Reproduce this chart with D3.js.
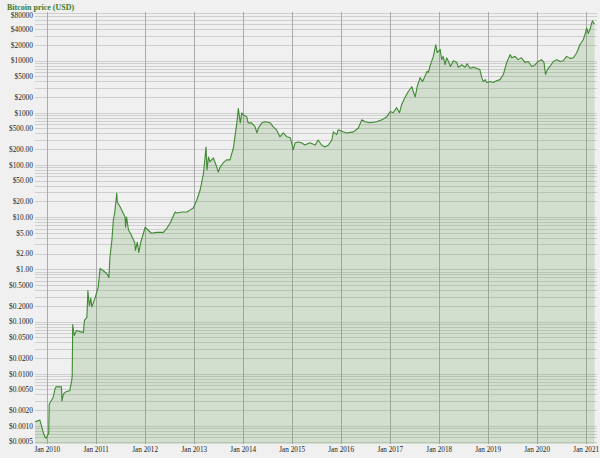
<!DOCTYPE html>
<html>
<head>
<meta charset="utf-8">
<script src="https://cdn.jsdelivr.net/npm/d3@7"></script>
<style>
  html, body { margin: 0; padding: 0; background: #f0f0f0; }
  svg { display: block; }
  svg text { font-family: "Liberation Serif", "Times New Roman", Times, serif; }
</style>
</head>
<body>
<svg id="chart" width="600" height="458"></svg>
<script>
// Decimal years
const years = [2009.76, 2009.86, 2009.92, 2009.96, 2009.99, 2010.02, 2010.04, 2010.05, 2010.07, 2010.13,
  2010.17, 2010.19, 2010.30, 2010.31, 2010.34, 2010.39, 2010.47, 2010.49, 2010.51, 2010.52,
  2010.53, 2010.56, 2010.61, 2010.68, 2010.75, 2010.77, 2010.82, 2010.84, 2010.87, 2010.90,
  2010.92, 2010.99, 2011.05, 2011.09, 2011.14, 2011.22, 2011.27, 2011.29, 2011.33, 2011.36,
  2011.39, 2011.43, 2011.44, 2011.50, 2011.56, 2011.60, 2011.61, 2011.63, 2011.67, 2011.71,
  2011.80, 2011.81, 2011.85, 2011.88, 2011.92, 2012.01, 2012.07, 2012.14, 2012.24, 2012.38,
  2012.45, 2012.52, 2012.62, 2012.65, 2012.76, 2012.86, 2012.92, 2012.99, 2013.06, 2013.13,
  2013.20, 2013.25, 2013.27, 2013.30, 2013.33, 2013.40, 2013.47, 2013.50, 2013.54, 2013.60,
  2013.67, 2013.74, 2013.78, 2013.81, 2013.84, 2013.88, 2013.91, 2013.95, 2013.98, 2014.01,
  2014.08, 2014.11, 2014.18, 2014.25, 2014.29, 2014.32, 2014.39, 2014.46, 2014.56, 2014.62,
  2014.69, 2014.76, 2014.83, 2014.90, 2014.97, 2015.00, 2015.03, 2015.07, 2015.13, 2015.20,
  2015.27, 2015.37, 2015.48, 2015.54, 2015.61, 2015.68, 2015.75, 2015.82, 2015.85, 2015.92,
  2015.95, 2016.05, 2016.12, 2016.26, 2016.36, 2016.43, 2016.50, 2016.60, 2016.73, 2016.84,
  2016.94, 2017.01, 2017.07, 2017.14, 2017.20, 2017.24, 2017.31, 2017.38, 2017.45, 2017.48,
  2017.52, 2017.56, 2017.62, 2017.67, 2017.72, 2017.76, 2017.79, 2017.82, 2017.89, 2017.94,
  2017.97, 2018.03, 2018.06, 2018.09, 2018.13, 2018.16, 2018.20, 2018.24, 2018.30, 2018.37,
  2018.40, 2018.47, 2018.54, 2018.58, 2018.64, 2018.71, 2018.84, 2018.88, 2018.91, 2018.95,
  2018.98, 2019.05, 2019.11, 2019.18, 2019.25, 2019.32, 2019.39, 2019.46, 2019.49, 2019.56,
  2019.62, 2019.69, 2019.76, 2019.83, 2019.90, 2019.97, 2020.03, 2020.10, 2020.15, 2020.18,
  2020.22, 2020.27, 2020.34, 2020.41, 2020.48, 2020.54, 2020.61, 2020.68, 2020.75, 2020.82,
  2020.88, 2020.95, 2020.99, 2021.02, 2021.05, 2021.09, 2021.12, 2021.14, 2021.16, 2021.18];

// Price in USD
const prices = [0.0012, 0.00129, 0.0008, 0.00062, 0.00058, 0.00068, 0.0007, 0.0026, 0.0028, 0.0035,
  0.0052, 0.0056, 0.0056, 0.003, 0.0041, 0.0045, 0.0047, 0.006, 0.0074, 0.009,
  0.087, 0.054, 0.067, 0.064, 0.062, 0.105, 0.12, 0.39, 0.2, 0.28,
  0.19, 0.29, 0.45, 1.04, 0.96, 0.84, 0.7, 1.7, 3.6, 8.8,
  12.5, 29, 19.5, 15.6, 12, 10, 6.4, 10, 5.6, 4.9,
  3.2, 2.3, 3.3, 2.1, 3.3, 6.4, 5.6, 4.9, 5.1, 5.1,
  6.1, 7.7, 12.5, 12, 12.5, 12.5, 13.6, 14.9, 21, 33,
  70, 220, 80, 142, 114, 136, 91, 73, 91, 109,
  125, 125, 170, 211, 345, 640, 1200, 640, 1000, 910,
  840, 640, 640, 540, 410, 510, 640, 670, 640, 540,
  470, 345, 410, 345, 330, 265, 195, 265, 275, 265,
  240, 265, 240, 300, 240, 220, 240, 300, 430, 380,
  470, 430, 410, 430, 510, 730, 670, 640, 670, 730,
  840, 1050, 1000, 1250, 1000, 1400, 1950, 2550, 3150, 2550,
  2000, 3150, 4700, 3950, 5000, 6200, 5900, 7700, 12000, 20000,
  14200, 16300, 10400, 12000, 8300, 11300, 9600, 7700, 9900, 9200,
  7400, 8300, 7400, 8700, 7100, 7400, 6700, 4700, 3950, 4300,
  3800, 3950, 3800, 4100, 4300, 5400, 9200, 13000, 11300, 12000,
  10400, 11300, 9200, 9600, 7700, 8300, 9600, 10400, 9200, 5400,
  6700, 7700, 9600, 10400, 9600, 9900, 12000, 11000, 11300, 14200,
  20000, 25000, 33000, 42000, 33000, 40000, 52000, 58000, 51000, 52000];

const yTickValues = [80000, 40000, 20000, 10000, 5000, 2000, 1000, 500, 200, 100, 50, 20, 10, 5, 2, 1,
  0.5, 0.2, 0.1, 0.05, 0.02, 0.01, 0.005, 0.002, 0.001, 0.0005];
const xTickYears = [2010, 2011, 2012, 2013, 2014, 2015, 2016, 2017, 2018, 2019, 2020, 2021];
const titleText = "Bitcoin price (USD)";

function yearToDate(yv) {
  const yr = Math.floor(yv);
  const start = Date.UTC(yr, 0, 1), end = Date.UTC(yr + 1, 0, 1);
  return new Date(start + (yv - yr) * (end - start));
}

const data = years.map((yv, i) => ({ date: yearToDate(yv), price: prices[i] }));

const svg = d3.select("#chart");
const M = { left: 35, right: 597, top: 12, bottom: 444 };

const x = d3.scaleUtc()
  .domain([yearToDate(2009.76), yearToDate(2021.23)])
  .range([M.left, M.right]);
const y = d3.scaleLog()
  .domain([0.00045, 85000])
  .range([M.bottom, M.top]);

// Minor horizontal grid (1..9 x 10^k)
const minor = [];
for (let e = -4; e <= 4; e++) for (let m = 1; m <= 9; m++) {
  const v = m * Math.pow(10, e);
  if (v >= y.domain()[0] && v <= y.domain()[1]) minor.push(v);
}
svg.append("g").selectAll("line").data(minor).join("line")
  .attr("x1", M.left).attr("x2", M.right)
  .attr("y1", d => Math.round(y(d)) + 0.5).attr("y2", d => Math.round(y(d)) + 0.5)
  .attr("stroke", "#cfcfcf").attr("stroke-width", 1);

// Vertical year grid
svg.append("g").selectAll("line").data(xTickYears).join("line")
  .attr("x1", d => Math.round(x(yearToDate(d))) + 0.5).attr("x2", d => Math.round(x(yearToDate(d))) + 0.5)
  .attr("y1", M.top).attr("y2", M.bottom)
  .attr("stroke", "#ababab").attr("stroke-width", 1);

// Area + line
const area = d3.area().x(d => x(d.date)).y0(M.bottom).y1(d => y(d.price));
const line = d3.line().x(d => x(d.date)).y(d => y(d.price));
svg.append("path").datum(data).attr("d", area)
  .attr("fill", "rgb(90,150,70)").attr("fill-opacity", 0.2);
svg.append("path").datum(data).attr("d", line)
  .attr("fill", "none").attr("stroke", "#3f8a33").attr("stroke-width", 1.1)
  .attr("stroke-linejoin", "round");

// Y axis labels
function fmt(v) {
  if (v >= 1000) return "$" + v.toFixed(0);
  if (v >= 1) return "$" + v.toFixed(2);
  return "$" + v.toFixed(4);
}
const yAxis = d3.axisLeft(y).tickValues(yTickValues).tickFormat(fmt).tickSize(0).tickPadding(2);
const gy = svg.append("g").attr("transform", `translate(${M.left},0)`).call(yAxis);
gy.select(".domain").remove();
gy.attr("font-family", null).attr("font-size", null);
gy.selectAll("text").attr("font-size", 7.4).attr("fill", "#222")
  .attr("dy", (d, i) => i === 0 ? "0.62em" : "0.32em");

// X axis labels
const xAxis = d3.axisBottom(x).tickValues(xTickYears.map(yearToDate))
  .tickFormat(d => "Jan " + d.getUTCFullYear()).tickSize(0).tickPadding(3);
const gx = svg.append("g").attr("transform", `translate(0,${M.bottom})`).call(xAxis);
gx.select(".domain").remove();
gx.attr("font-family", null).attr("font-size", null);
gx.selectAll("text").attr("font-size", 7.2).attr("fill", "#222");

// Title
svg.append("text").attr("x", 7).attr("y", 10)
  .attr("font-size", 8).attr("font-weight", "bold").attr("fill", "#3c7a2c")
  .text(titleText);
</script>
</body>
</html>
